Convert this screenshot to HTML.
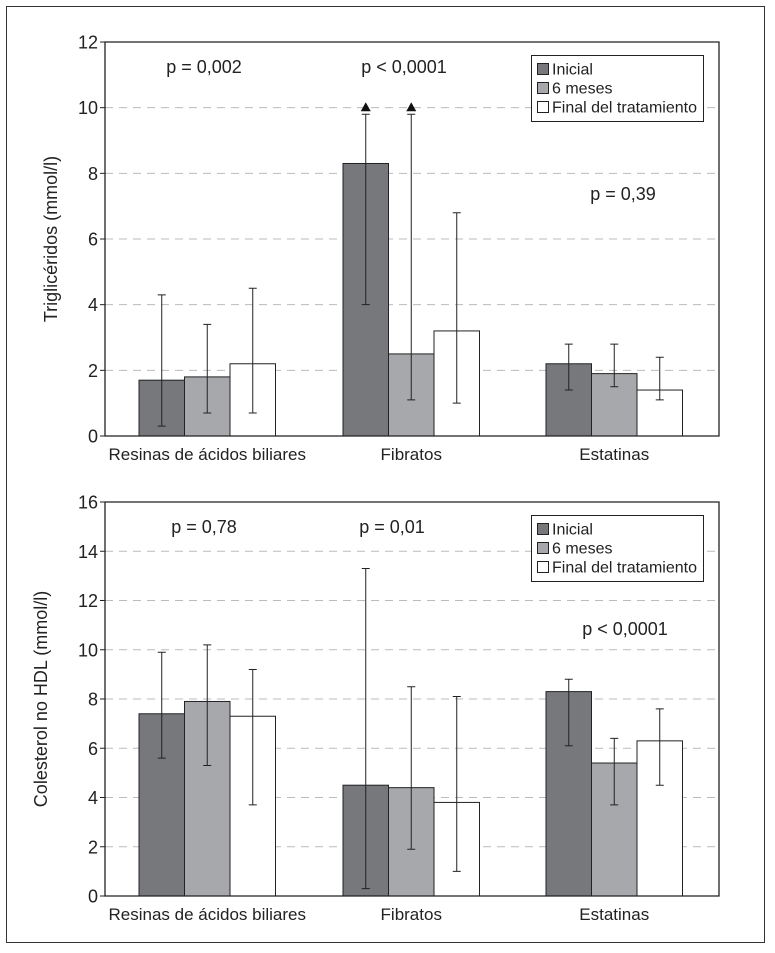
<!DOCTYPE html>
<html><head><meta charset="utf-8"><style>
body{margin:0;background:#fff;}
svg{display:block;font-family:"Liberation Sans",sans-serif;}
</style></head><body>
<svg id="s" width="775" height="953">
<rect x="6.5" y="6.5" width="758" height="936" fill="none" stroke="#333" stroke-width="1"/>
</svg>
<script>
const categories=["Resinas de ácidos biliares","Fibratos","Estatinas"];
const seriesNames=["Inicial","6 meses","Final del tratamiento"];
const tgMean=[[1.7,1.8,2.2],[8.3,2.5,3.2],[2.2,1.9,1.4]];
const tgLow=[[0.3,0.7,0.7],[4.0,1.1,1.0],[1.4,1.5,1.1]];
const tgHigh=[[4.3,3.4,4.5],[9.8,9.8,6.8],[2.8,2.8,2.4]];
const tgTicks=[0,2,4,6,8,10,12];
const tgP=["p = 0,002","p < 0,0001","p = 0,39"];
const hdlMean=[[7.4,7.9,7.3],[4.5,4.4,3.8],[8.3,5.4,6.3]];
const hdlLow=[[5.6,5.3,3.7],[0.3,1.9,1.0],[6.1,3.7,4.5]];
const hdlHigh=[[9.9,10.2,9.2],[13.3,8.5,8.1],[8.8,6.4,7.6]];
const hdlTicks=[0,2,4,6,8,10,12,14,16];
const hdlP=["p = 0,78","p = 0,01","p < 0,0001"];

const NS="http://www.w3.org/2000/svg";
const svg=document.getElementById('s');
const colors=["#77787c","#a7a8ab","#ffffff"];
function mk(tag,attrs,parent){const e=document.createElementNS(NS,tag);for(const k in attrs)e.setAttribute(k,attrs[k]);(parent||svg).appendChild(e);return e;}

function chart(cfg){
  const L=105,R=719,T=cfg.top,B=cfg.top+394,maxV=cfg.ticks[cfg.ticks.length-1];
  const y=v=>B-(v/maxV)*(B-T);
  const g=mk('g',{});
  
  
  cfg.ticks.forEach(t=>{
    if(t>0&&t<maxV){const gl=mk('line',{x1:L,x2:R,y1:y(t),y2:y(t),stroke:'#bbb','stroke-dasharray':'8,6'},g);
      }
    const tk=mk('line',{x1:L-5,x2:L,y1:y(t),y2:y(t),stroke:'#222'},g);
    
    const tl=mk('text',{x:L-7,y:y(t)+6.5,'text-anchor':'end','font-size':18,fill:'#222'},g);
    tl.textContent=t;
    
  });
  const groupX=[139,343,546],bw=45.5;
  categories.forEach((c,i)=>{
    for(let s=0;s<3;s++){
      const x0=groupX[i]+s*bw;
      const r=mk('rect',{x:x0,y:y(cfg.mean[i][s]),width:bw,height:B-y(cfg.mean[i][s]),fill:colors[s],stroke:'#222','stroke-width':1},g);
      
      
      const cx=x0+bw/2;
      const e=mk('path',{d:`M${cx},${y(cfg.low[i][s])}V${y(cfg.high[i][s])}M${cx-4},${y(cfg.low[i][s])}H${cx+4}M${cx-4},${y(cfg.high[i][s])}H${cx+4}`,stroke:'#222',fill:'none'},g);
      
      
      if(cfg.tri&&cfg.tri[i]&&cfg.tri[i][s]){
        const ty=y(cfg.high[i][s])-8;
        const tr=mk('path',{d:`M${cx-5},${ty+5}L${cx+5},${ty+5}L${cx},${ty-4}Z`,fill:'#111'},g);
        
        
      }
    }
    const cl=mk('text',{x:groupX[i]+bw*1.5,y:B+24,'text-anchor':'middle','font-size':17,fill:'#222'},g);
    cl.textContent=c;
    
    const p=mk('text',{x:cfg.pPos[i][0],y:cfg.pPos[i][1],'text-anchor':'middle','font-size':18,fill:'#222'},g);
    p.textContent=cfg.p[i];
    
  });
  const ax=mk('path',{d:`M${L},${T}V${B}H${R}V${T}Z`,fill:'none',stroke:'#222','stroke-width':1.3},g);
  
  const yt=mk('text',{x:0,y:0,transform:`translate(${cfg.ytx},${(T+B)/2}) rotate(-90)`,'text-anchor':'middle','font-size':18,fill:'#222'},g);
  yt.textContent=cfg.ytitle;
  
  const lg=mk('g',{},g);
  
  const ly=cfg.top+13;
  mk('rect',{x:531.5,y:ly+0.5,width:172,height:66,fill:'#fff',stroke:'#222'},lg);
  seriesNames.forEach((n,s)=>{
    const sw=mk('rect',{x:537.5,y:ly+8.5+s*19,width:11,height:11,fill:colors[s],stroke:'#222'},lg);
    
    const lt=mk('text',{x:552,y:ly+19.5+s*19,'font-size':16,fill:'#222'},lg);
    lt.textContent=n;
    
  });
}
chart({name:'triglycerides-chart',top:42,ticks:tgTicks,mean:tgMean,low:tgLow,high:tgHigh,p:tgP,
  pPos:[[204,73],[404,73],[623,200]],ytitle:'Triglicéridos (mmol/l)',ytx:57,tri:[null,[1,1,0],null]});
chart({name:'non-hdl-cholesterol-chart',top:502,ticks:hdlTicks,mean:hdlMean,low:hdlLow,high:hdlHigh,p:hdlP,
  pPos:[[204,533],[392,533],[625,635]],ytitle:'Colesterol no HDL (mmol/l)',ytx:47});
</script>
</body></html>
